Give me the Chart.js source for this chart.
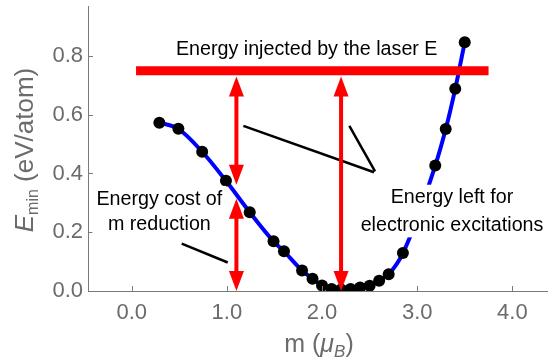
<!DOCTYPE html>
<html>
<head>
<meta charset="utf-8">
<script src="https://cdn.jsdelivr.net/npm/chart.js@4/dist/chart.umd.min.js"></script>
<style>
  html, body { margin: 0; padding: 0; background: #ffffff; }
  canvas { display: block; }
</style>
</head>
<body>
<canvas id="chart" width="548" height="362"></canvas>
<script>
// Minimum energy per atom versus magnetic moment
const magMoment = [0.29, 0.49, 0.74, 0.99, 1.24, 1.49, 1.60, 1.79, 1.90, 2.00, 2.10,
                   2.20, 2.30, 2.40, 2.50, 2.60, 2.70, 2.85, 3.19, 3.30, 3.40, 3.50];
const energyMin = [0.573, 0.552, 0.474, 0.375, 0.268, 0.169, 0.135, 0.070, 0.042, 0.019, 0.007,
                   0.005, 0.007, 0.012, 0.018, 0.035, 0.057, 0.129, 0.427, 0.551, 0.688, 0.847];

// Laser energy level and its horizontal extent
const laserEnergy = 0.75;
const laserSpan = [0.045, 3.75];

// Tick labels
const xTicks = [0, 1, 2, 3, 4];
const yTicks = [0, 0.2, 0.4, 0.6, 0.8];

// Double arrows: [m, lower tip, upper tip]
const costArrow = [1.1, 0.0, 0.314];
const costToLaserArrow = [1.1, 0.362, 0.730];
const leftArrow = [2.2, 0.0, 0.730];

// Pointer lines (pairs of [m, E] end points)
const pointerLines = [
  [[1.173, 0.562], [2.546, 0.404]],
  [[2.287, 0.562], [2.557, 0.407]],
  [[0.525, 0.161], [1.009, 0.097]]
];

// Annotation text: lines, centre m, first baseline E
const notes = [
  { lines: ['Energy injected by the laser E'], x: 1.839, y: 0.802, box: false, lh: 26 },
  { lines: ['Energy cost of', 'm reduction'], x: 0.29, y: 0.294, box: true, lh: 25 },
  { lines: ['Energy left for', 'electronic excitations'], x: 3.366, y: 0.298, box: true, lh: 28 }
];

const GRAY = '#6b6b6b';
const AXIS = '#7a7a7a';
const FONT = '"Liberation Sans", Arial, Helvetica, sans-serif';

function drawRuns(ctx, runs, cx, baseline) {
  let total = 0;
  runs.forEach(r => { ctx.font = r.font; r.w = ctx.measureText(r.text).width; total += r.w; });
  let x = cx - total / 2;
  runs.forEach(r => {
    ctx.font = r.font;
    ctx.fillText(r.text, x, baseline + (r.dy || 0));
    x += r.w;
  });
}

function drawArrowHead(ctx, x, tipY, dir) {
  // dir = -1 points up, +1 points down
  const len = 20, half = 7.5;
  ctx.beginPath();
  ctx.moveTo(x, tipY);
  ctx.lineTo(x - half, tipY - dir * len);
  ctx.lineTo(x + half, tipY - dir * len);
  ctx.closePath();
  ctx.fill();
}

function drawDoubleArrow(ctx, xs, ys, a) {
  const x = xs.getPixelForValue(a[0]);
  const yLow = ys.getPixelForValue(a[1]);
  const yHigh = ys.getPixelForValue(a[2]);
  ctx.strokeStyle = '#ff0000';
  ctx.fillStyle = '#ff0000';
  ctx.lineWidth = 4;
  ctx.beginPath();
  ctx.moveTo(x, yHigh + 15);
  ctx.lineTo(x, yLow - 15);
  ctx.stroke();
  drawArrowHead(ctx, x, yHigh, -1);
  drawArrowHead(ctx, x, yLow, 1);
}

const overlay = {
  id: 'overlay',
  afterDatasetsDraw(chart) {
    const { ctx, chartArea, scales } = chart;
    const xs = scales.x, ys = scales.y;
    ctx.save();

    // inward tick marks
    ctx.strokeStyle = AXIS;
    ctx.lineWidth = 1;
    xTicks.forEach(v => {
      const px = Math.round(xs.getPixelForValue(v)) + 0.5;
      ctx.beginPath();
      ctx.moveTo(px, chartArea.bottom);
      ctx.lineTo(px, chartArea.bottom - 5);
      ctx.stroke();
    });
    yTicks.forEach(v => {
      const py = Math.round(ys.getPixelForValue(v)) + 0.5;
      ctx.beginPath();
      ctx.moveTo(chartArea.left, py);
      ctx.lineTo(chartArea.left + 5, py);
      ctx.stroke();
    });

    // annotation text, with a white backing where it sits over the curve
    const fs = 19.7;
    ctx.font = fs + 'px ' + FONT;
    ctx.textAlign = 'center';
    ctx.textBaseline = 'alphabetic';
    notes.forEach(n => {
      const cx = xs.getPixelForValue(n.x);
      const by = ys.getPixelForValue(n.y);
      if (n.box) {
        let w = 0;
        n.lines.forEach(l => { w = Math.max(w, ctx.measureText(l).width); });
        const top = by - fs * 0.95;
        const bottom = by + (n.lines.length - 1) * n.lh + fs * 0.3;
        ctx.fillStyle = '#ffffff';
        ctx.fillRect(cx - w / 2 - 4, top, w + 8, bottom - top);
      }
      ctx.fillStyle = '#000000';
      n.lines.forEach((l, i) => ctx.fillText(l, cx, by + i * n.lh));
    });

    // red double arrows
    [costArrow, costToLaserArrow, leftArrow].forEach(a => drawDoubleArrow(ctx, xs, ys, a));

    // axis titles
    ctx.fillStyle = GRAY;
    ctx.textAlign = 'left';
    drawRuns(ctx, [
      { text: 'm (', font: '25px ' + FONT },
      { text: 'μ', font: 'italic 25px ' + FONT },
      { text: 'B', font: 'italic 17px ' + FONT, dy: 5.5 },
      { text: ')', font: '25px ' + FONT }
    ], 319, 351.5);

    ctx.save();
    ctx.translate(33, 150);
    ctx.rotate(-Math.PI / 2);
    drawRuns(ctx, [
      { text: 'E', font: 'italic 26px ' + FONT },
      { text: 'min', font: '16px ' + FONT, dy: 4.5 },
      { text: ' (eV/atom)', font: '26px ' + FONT }
    ], 0, 0);
    ctx.restore();

    ctx.restore();
  }
};

const curvePoints = magMoment.map((m, i) => ({ x: m, y: energyMin[i] }));

new Chart(document.getElementById('chart'), {
  type: 'scatter',
  data: {
    datasets: [
      {
        data: [{ x: laserSpan[0], y: laserEnergy }, { x: laserSpan[1], y: laserEnergy }],
        showLine: true,
        borderColor: '#ff0000',
        borderWidth: 9,
        borderCapStyle: 'butt',
        pointRadius: 0,
        order: 0
      },
      ...pointerLines.map(seg => ({
        data: seg.map(p => ({ x: p[0], y: p[1] })),
        showLine: true,
        borderColor: '#000000',
        borderWidth: 2.5,
        pointRadius: 0,
        order: 0
      })),
      {
        data: curvePoints,
        showLine: true,
        borderColor: '#0000ff',
        borderWidth: 4,
        cubicInterpolationMode: 'monotone',
        pointRadius: 6,
        pointBackgroundColor: '#000000',
        pointBorderWidth: 0,
        clip: 0,
        order: 1
      }
    ]
  },
  options: {
    responsive: false,
    animation: false,
    events: [],
    layout: { autoPadding: false, padding: { top: 6, right: 0, left: 0, bottom: 0 } },
    plugins: { legend: { display: false }, tooltip: { enabled: false } },
    scales: {
      x: {
        type: 'linear',
        min: -0.46,
        max: 4.375,
        grid: { display: false, drawTicks: false },
        border: { display: true, color: AXIS, width: 1 },
        afterBuildTicks: s => { s.ticks = xTicks.map(v => ({ value: v })); },
        afterFit: s => { s.height = 71; s.paddingLeft = 0; s.paddingRight = 0; },
        ticks: {
          autoSkip: false,
          padding: 9,
          color: GRAY,
          font: { family: FONT, size: 22 },
          callback: v => Number(v).toFixed(1)
        }
      },
      y: {
        type: 'linear',
        min: 0,
        max: 0.97,
        grid: { display: false, drawTicks: false },
        border: { display: true, color: AXIS, width: 1 },
        afterBuildTicks: s => { s.ticks = yTicks.map(v => ({ value: v })); },
        afterFit: s => { s.width = 88; s.paddingTop = 0; s.paddingBottom = 0; },
        ticks: {
          autoSkip: false,
          padding: 5,
          color: GRAY,
          font: { family: FONT, size: 22 },
          callback: v => Number(v).toFixed(1)
        }
      }
    }
  },
  plugins: [overlay]
});
</script>
</body>
</html>
